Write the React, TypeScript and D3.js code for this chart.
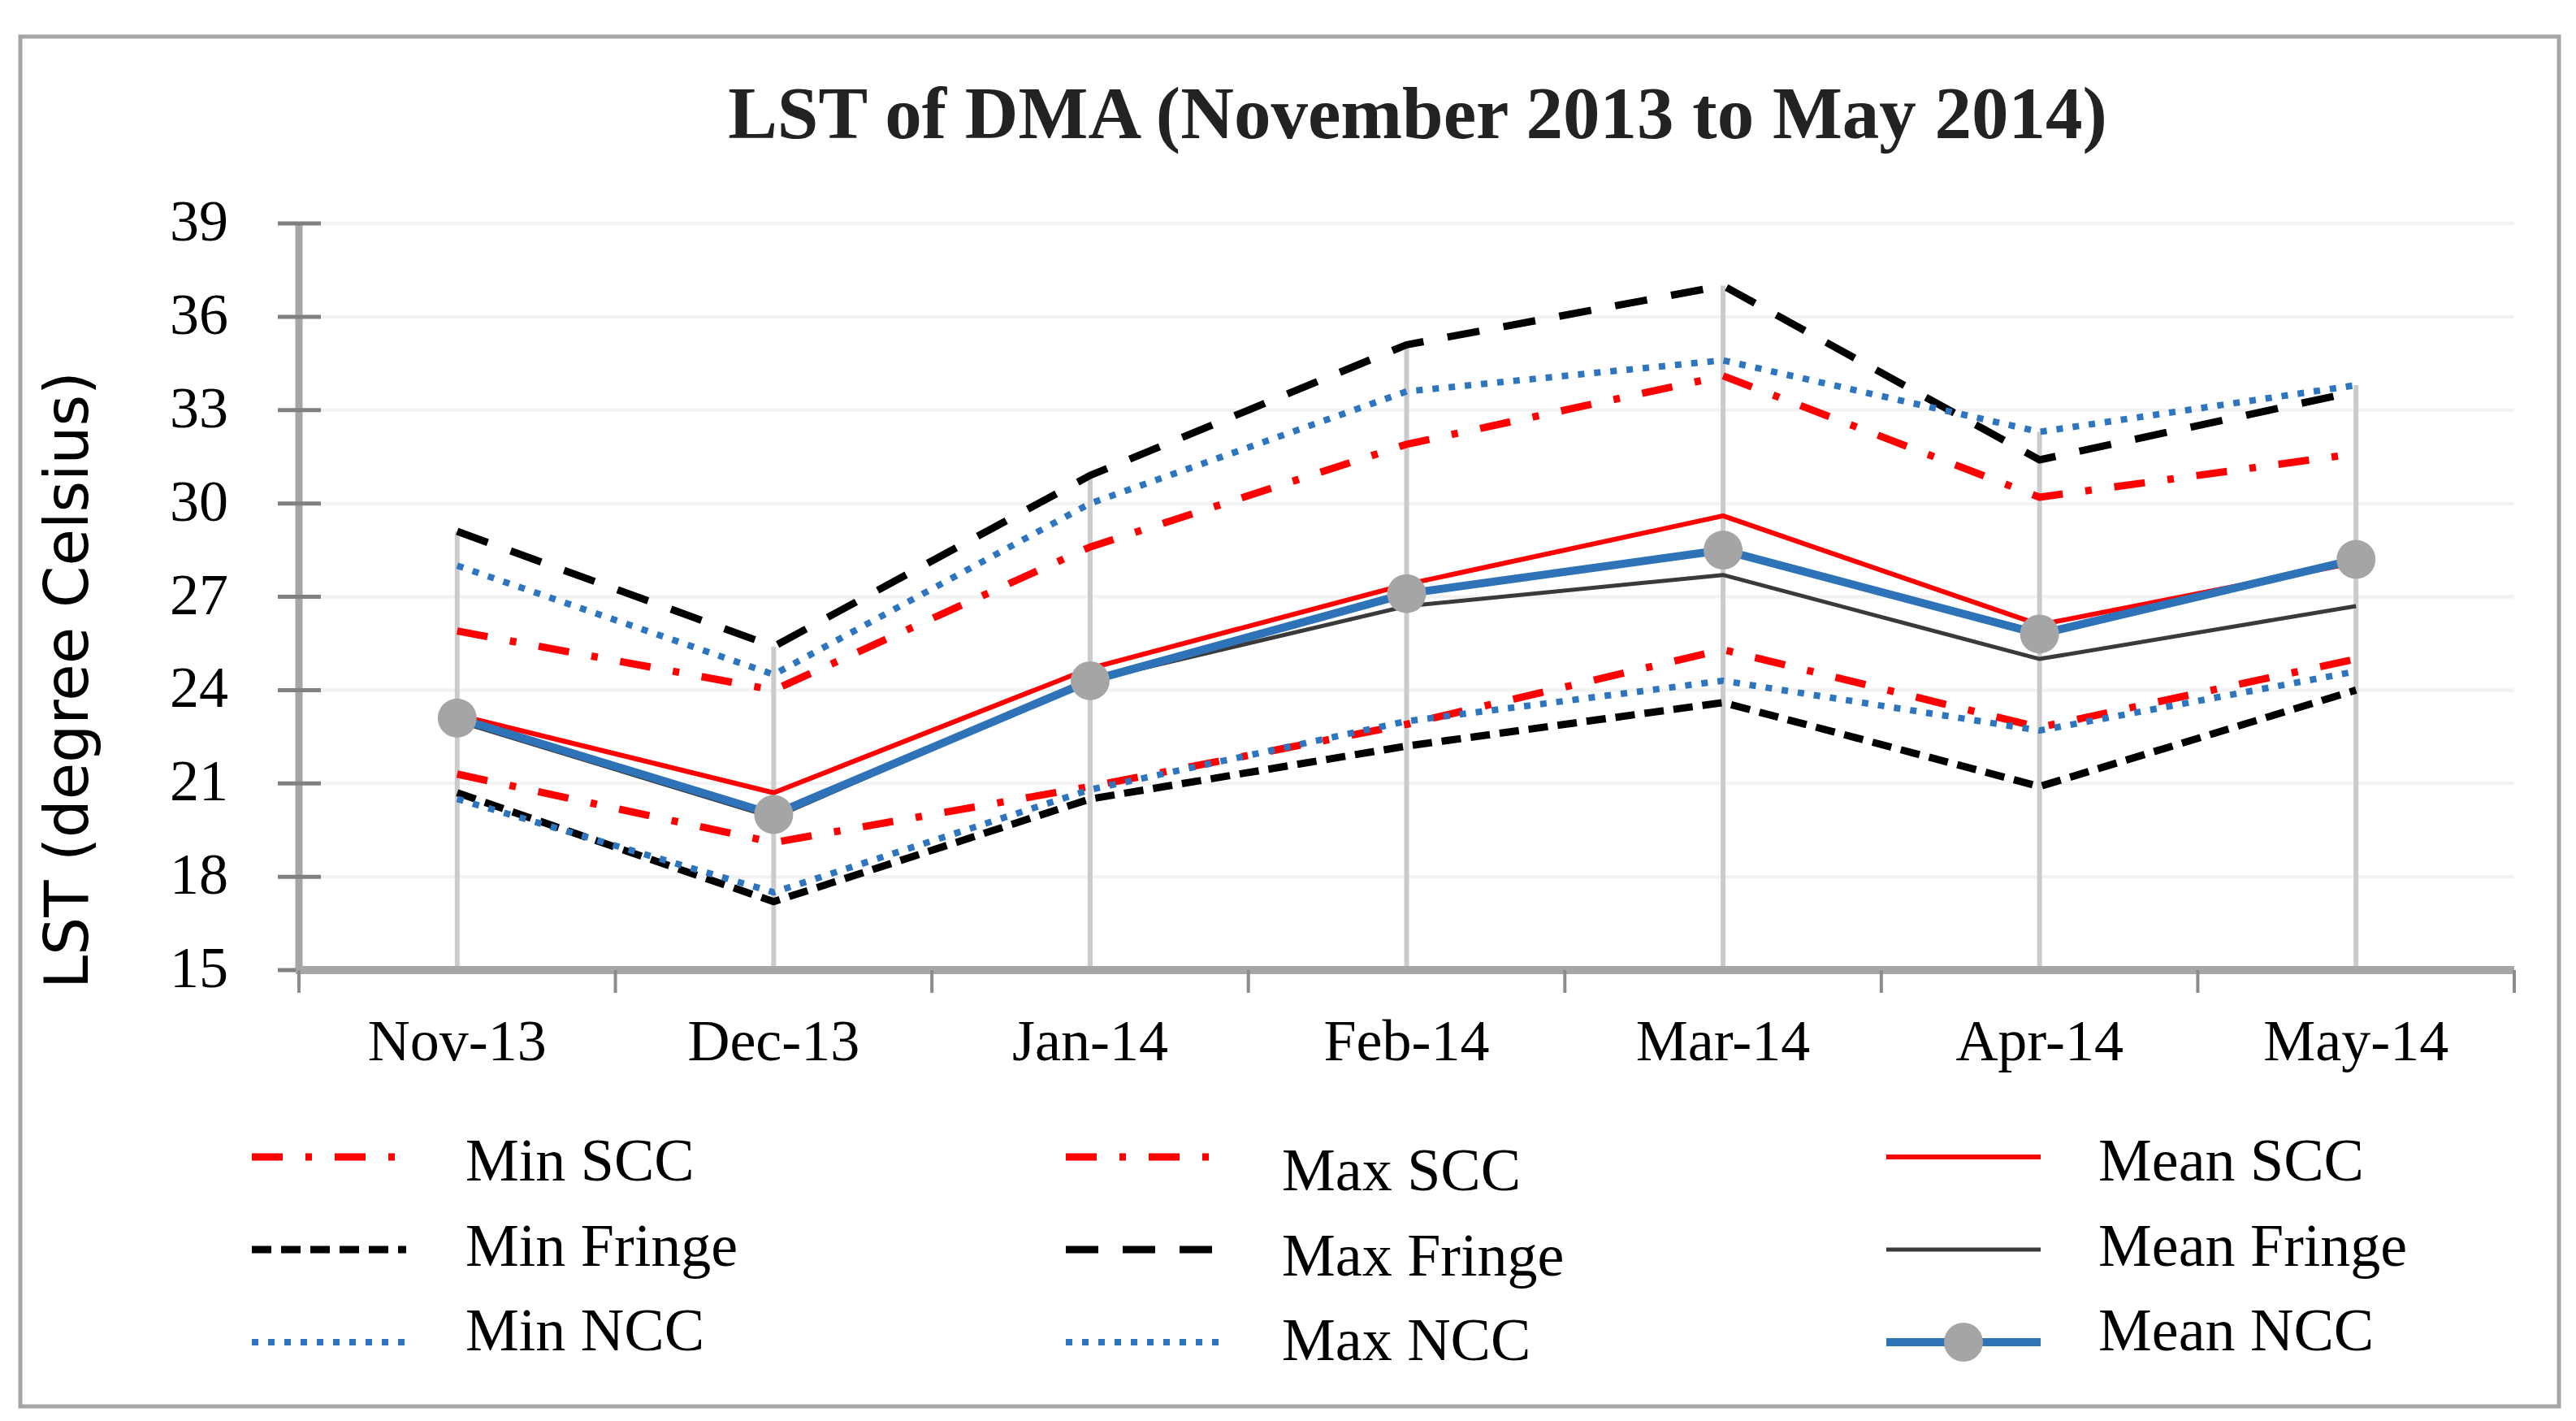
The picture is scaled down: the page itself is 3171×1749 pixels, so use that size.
import * as d3 from 'd3'

const months = ['Nov-13', 'Dec-13', 'Jan-14', 'Feb-14', 'Mar-14', 'Apr-14', 'May-14']
const yTicks = [15, 18, 21, 24, 27, 30, 33, 36, 39]

const minSCC = [21.3, 19.1, 20.9, 22.9, 25.3, 22.8, 25.0]
const maxSCC = [25.9, 24.0, 28.6, 31.9, 34.1, 30.2, 31.6]
const meanSCC = [23.2, 20.7, 24.7, 27.4, 29.6, 26.1, 28.1]
const minFringe = [20.7, 17.2, 20.5, 22.2, 23.6, 20.9, 24.0]
const maxFringe = [29.1, 25.4, 30.9, 35.1, 37.0, 31.4, 33.6]
const meanFringe = [23.0, 19.9, 24.3, 26.7, 27.7, 25.0, 26.7]
const minNCC = [20.5, 17.5, 20.8, 23.0, 24.3, 22.7, 24.6]
const maxNCC = [28.0, 24.5, 30.0, 33.6, 34.6, 32.3, 33.8]
const meanNCC = [23.1, 20.0, 24.3, 27.1, 28.5, 25.8, 28.2]

interface Series {
  name: string
  values: number[]
  color: string
  width: number
  dash?: string
  marker?: boolean
}

// drawing order = Excel series order, last one on top
const series: Series[] = [
  { name: 'Min SCC', values: minSCC, color: '#ff0000', width: 9, dash: '38 28 8 28' },
  { name: 'Max SCC', values: maxSCC, color: '#ff0000', width: 9, dash: '38 28 8 28' },
  { name: 'Mean SCC', values: meanSCC, color: '#ff0000', width: 6 },
  { name: 'Min Fringe', values: minFringe, color: '#000000', width: 9, dash: '24 12' },
  { name: 'Max Fringe', values: maxFringe, color: '#000000', width: 9, dash: '40 30' },
  { name: 'Mean Fringe', values: meanFringe, color: '#3a3a3a', width: 5 },
  { name: 'Min NCC', values: minNCC, color: '#2e75c0', width: 8, dash: '8 12' },
  { name: 'Max NCC', values: maxNCC, color: '#2e75c0', width: 8, dash: '8 12' },
  { name: 'Mean NCC', values: meanNCC, color: '#2e72b8', width: 10, marker: true },
]

// legend is laid out column by column (Excel order goes down the rows)
const legendOrder = [
  ['Min SCC', 'Min Fringe', 'Min NCC'],
  ['Max SCC', 'Max Fringe', 'Max NCC'],
  ['Mean SCC', 'Mean Fringe', 'Mean NCC'],
]

const W = 3171
const H = 1749
const plot = { left: 368, right: 3095, top: 275, bottom: 1194 }
const serif = '"Liberation Serif", "Times New Roman", serif'

export default function App() {
  const x = d3.scaleBand<string>().domain(months).range([plot.left, plot.right])
  const y = d3.scaleLinear().domain([15, 39]).range([plot.bottom, plot.top])
  const cx = (m: string) => (x(m) as number) + x.bandwidth() / 2

  const line = d3
    .line<number>()
    .x((_, i) => cx(months[i]))
    .y((d) => y(d))

  const highs = months.map((_, i) => d3.max(series, (s) => s.values[i]) as number)
  const boundaries = [...months.map((m) => x(m) as number), plot.right]
  const meanNCCSeries = series[series.length - 1]

  const legendCols = [310, 1312, 2322]
  const legendText = [573, 1578, 2583]
  const swatchY = [1424, 1538, 1652]
  const textY = [1453, 1558, 1662]
  const colShift = [0, 12, 0]

  return (
    <svg
      width={W}
      height={H}
      style={{ position: 'absolute', left: 0, top: 0, display: 'block', background: '#fff' }}
    >
      <rect x={25} y={45} width={3125} height={1686} fill="#fff" stroke="#a6a6a6" strokeWidth={5} />

      <text
        x={1745}
        y={170}
        textAnchor="middle"
        fontFamily={serif}
        fontWeight="bold"
        fontSize={91}
        fill="#222"
      >
        LST of DMA (November 2013 to May 2014)
      </text>

      {/* gridlines */}
      {yTicks.map((t) => (
        <line key={'g' + t} x1={plot.left} x2={plot.right} y1={y(t)} y2={y(t)} stroke="#f2f2f2" strokeWidth={4} />
      ))}

      {/* drop lines */}
      {months.map((m, i) => (
        <line
          key={'d' + m}
          x1={cx(m)}
          x2={cx(m)}
          y1={y(highs[i])}
          y2={plot.bottom}
          stroke="#cbcbcb"
          strokeWidth={6}
        />
      ))}

      {/* axes */}
      <line x1={plot.left} x2={plot.left} y1={plot.top} y2={plot.bottom} stroke="#a6a6a6" strokeWidth={9} />
      {yTicks.map((t) => (
        <g key={'yt' + t}>
          <line x1={342} x2={395} y1={y(t)} y2={y(t)} stroke="#808080" strokeWidth={5} />
          <text x={281} y={y(t) + 21} textAnchor="end" fontFamily={serif} fontSize={72} fill="#000">
            {t}
          </text>
        </g>
      ))}
      <line x1={plot.left - 4} x2={plot.right} y1={plot.bottom} y2={plot.bottom} stroke="#a6a6a6" strokeWidth={10} />
      {boundaries.map((b, i) => (
        <line key={'xt' + i} x1={b} x2={b} y1={plot.bottom} y2={plot.bottom + 28} stroke="#8c8c8c" strokeWidth={4} />
      ))}
      {months.map((m) => (
        <text key={'xl' + m} x={cx(m)} y={1305} textAnchor="middle" fontFamily={serif} fontSize={72} fill="#000">
          {m}
        </text>
      ))}

      <text
        transform="translate(108, 837) rotate(-90)"
        textAnchor="middle"
        fontFamily='"DejaVu Sans", Verdana, sans-serif'
        fontSize={74}
        fill="#000"
      >
        LST (degree Celsius)
      </text>

      {/* series */}
      {series.map((s) => (
        <path
          key={s.name}
          d={line(s.values) as string}
          fill="none"
          stroke={s.color}
          strokeWidth={s.width}
          strokeDasharray={s.dash}
          strokeLinejoin="round"
        />
      ))}
      {meanNCCSeries.values.map((v, i) => (
        <circle key={'m' + i} cx={cx(months[i])} cy={y(v)} r={24} fill="#a5a5a5" />
      ))}

      {/* legend */}
      {legendOrder.map((col, ci) =>
        col.map((name, ri) => {
          const s = series.find((d) => d.name === name) as Series
          const sy = swatchY[ri]
          const x0 = legendCols[ci]
          return (
            <g key={'lg' + name}>
              <line
                x1={x0}
                x2={x0 + 190}
                y1={sy}
                y2={sy}
                stroke={s.color}
                strokeWidth={s.width}
                strokeDasharray={s.dash}
              />
              {s.marker && <circle cx={x0 + 95} cy={sy} r={24} fill="#a5a5a5" />}
              <text
                x={legendText[ci]}
                y={textY[ri] + colShift[ci]}
                fontFamily={serif}
                fontSize={74}
                fill="#000"
              >
                {name}
              </text>
            </g>
          )
        })
      )}
    </svg>
  )
}
